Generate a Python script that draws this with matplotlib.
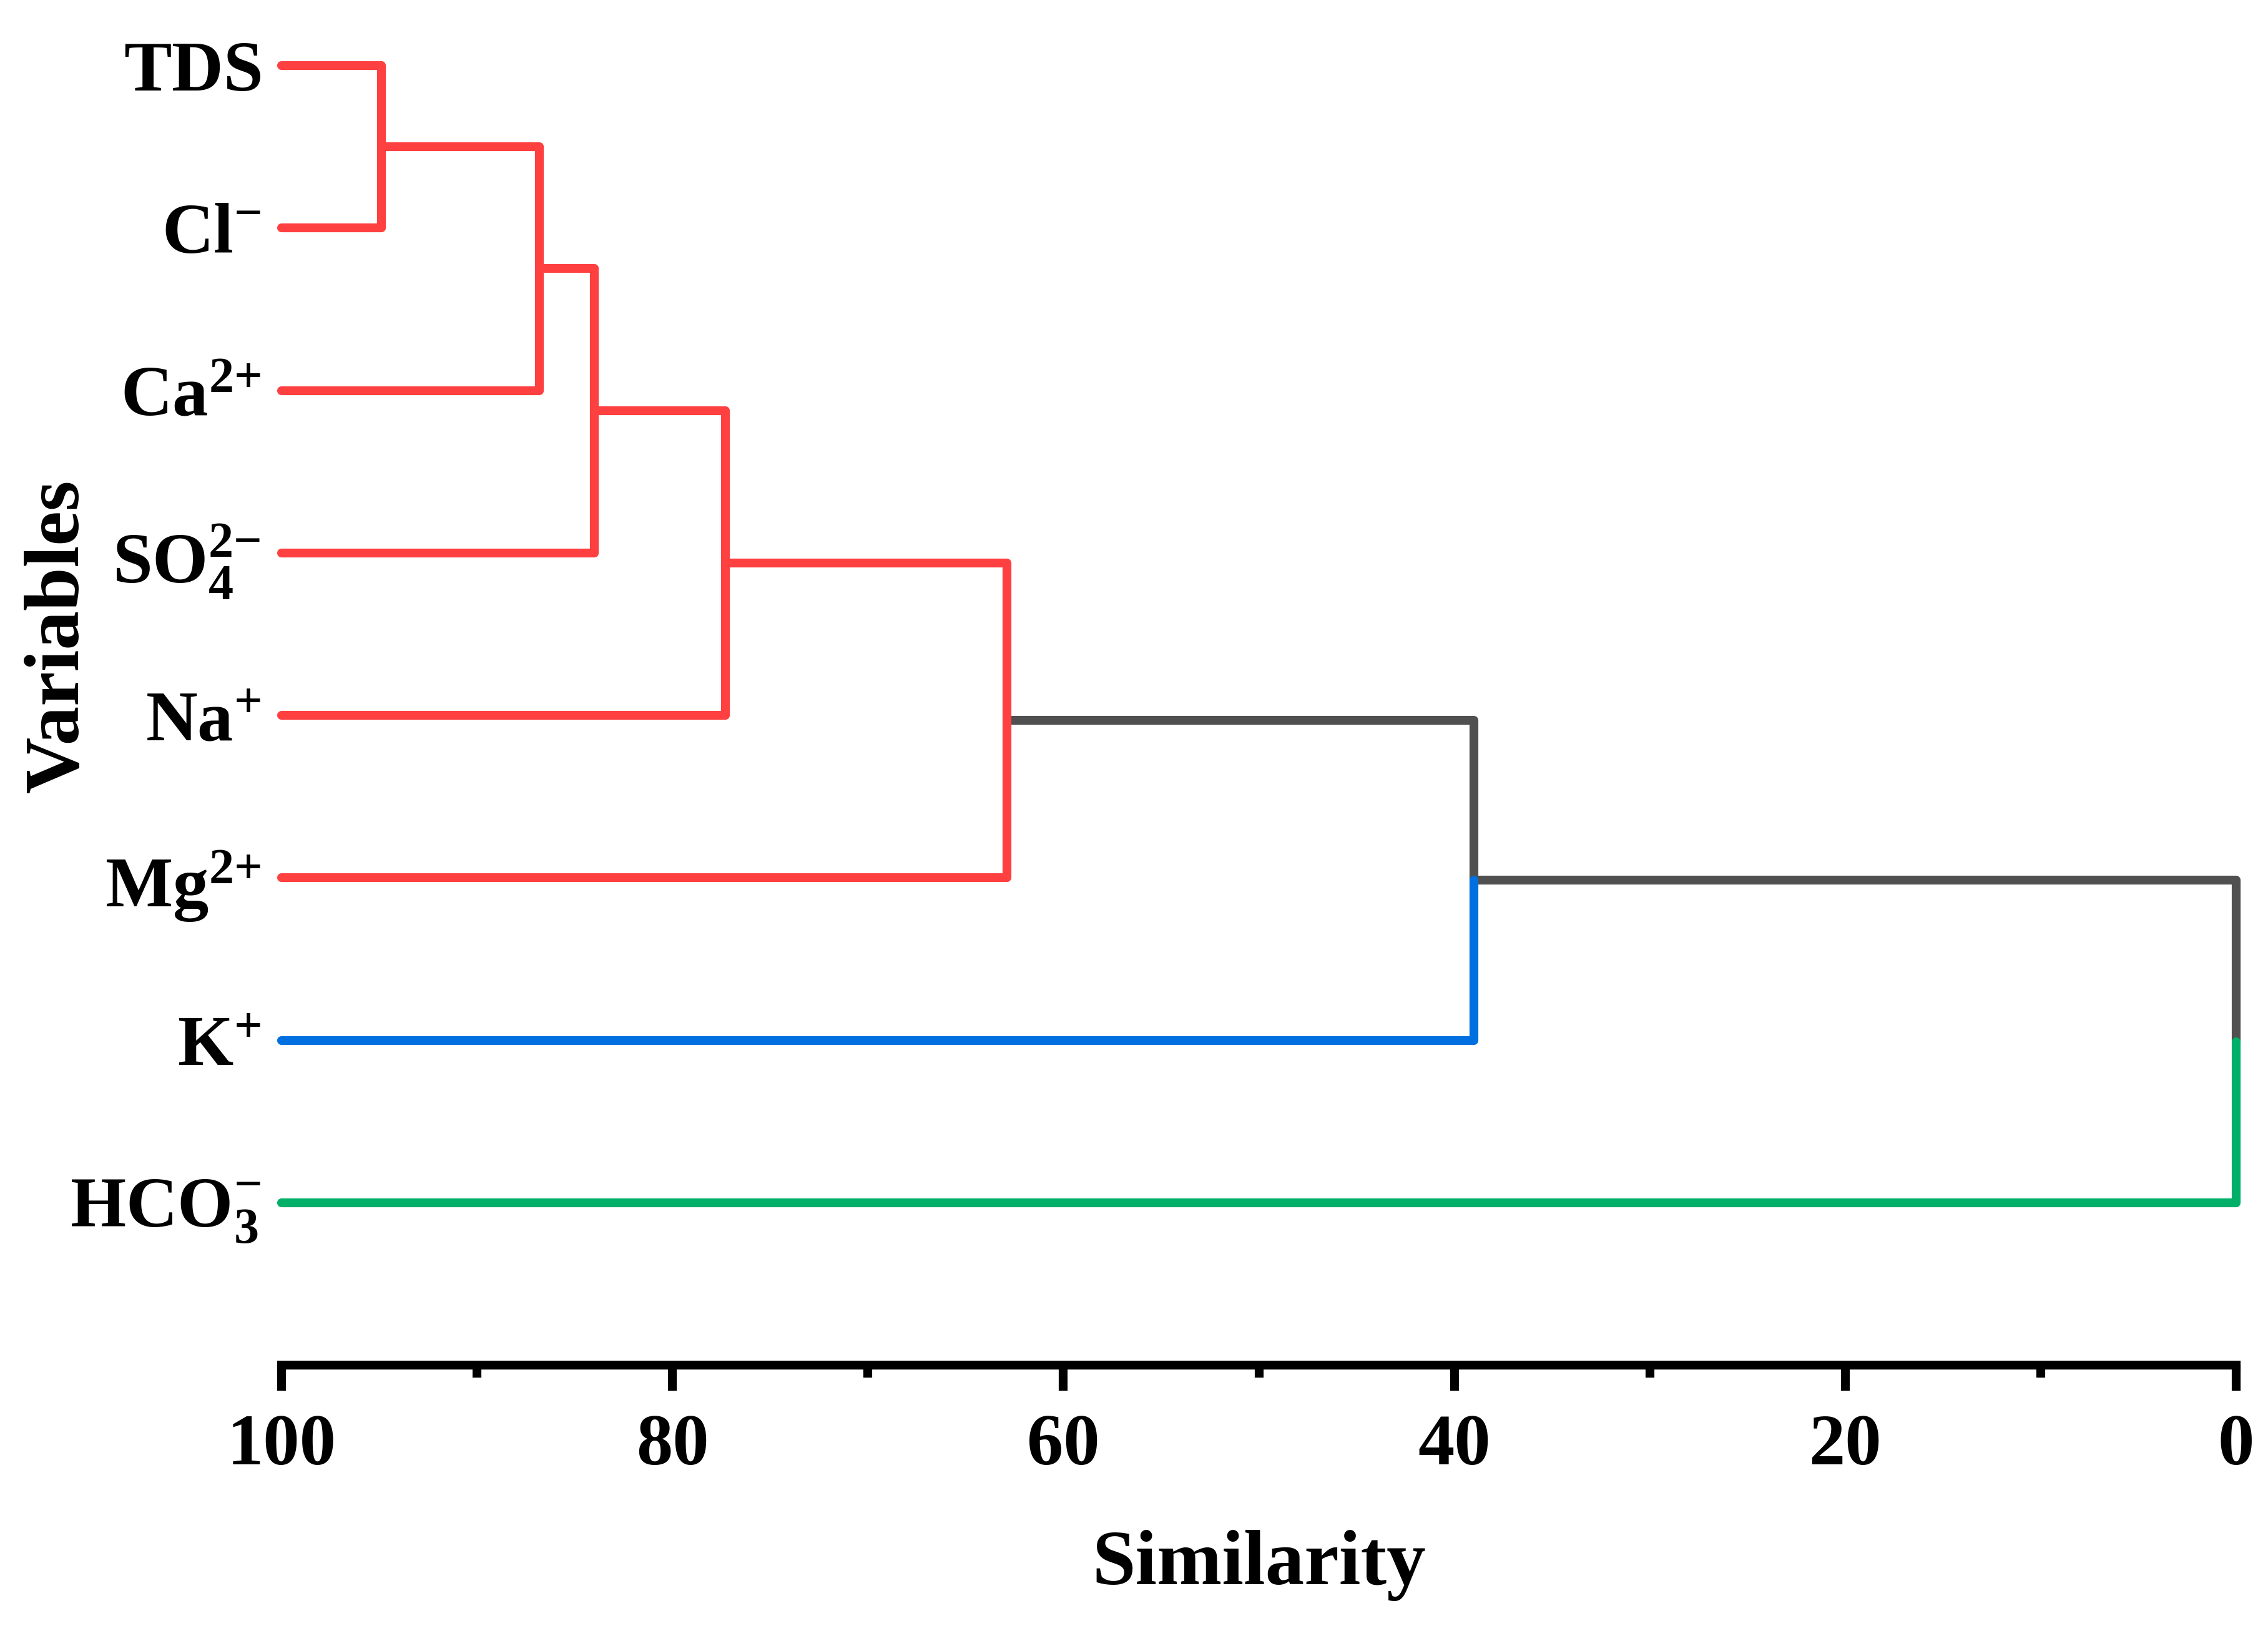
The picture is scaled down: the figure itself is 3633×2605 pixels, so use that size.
import numpy as np
import matplotlib.pyplot as plt

plt.rcParams['font.family'] = ['Liberation Serif', 'DejaVu Serif']
plt.rcParams['font.weight'] = 'bold'
plt.rcParams['mathtext.fontset'] = 'custom'
plt.rcParams['mathtext.rm'] = 'Liberation Serif'
plt.rcParams['mathtext.it'] = 'Liberation Serif:italic'
plt.rcParams['mathtext.bf'] = 'Liberation Serif:bold'

# leaves, top to bottom
leaf_labels = [r'$\mathbf{TDS}$', r'$\mathbf{Cl}^{{-}}$', r'$\mathbf{Ca}^{2{+}}$',
               r'$\mathbf{SO}_{\mathbf{4}}^{2{-}}$', r'$\mathbf{Na}^{{+}}$',
               r'$\mathbf{Mg}^{2{+}}$', r'$\mathbf{K}^{{+}}$', r'$\mathbf{HCO}_{\mathbf{3}}^{{-}}$']
leaf_groups = [0, 0, 0, 0, 0, 0, 1, 2]

# linkage: child a, child b, similarity of the merge (ids >= 8 are earlier merges)
merge_a = [0, 8, 9, 10, 11, 12, 13]
merge_b = [1, 2, 3, 4, 5, 6, 7]
merge_sim = [94.9, 86.8, 84.0, 77.3, 62.9, 39.0, 0.0]
cut = 50

group_colors = ['#FF4040', '#0070E0', '#00AF68']
gray = '#505050'

n = len(leaf_labels)
node_x = [100.0] * n
node_y = list(range(n))
node_group = list(leaf_groups)
for a, b, s in zip(merge_a, merge_b, merge_sim):
    node_x.append(s)
    node_y.append((node_y[a] + node_y[b]) / 2)
    node_group.append(node_group[a] if node_group[a] == node_group[b] else -1)

fig = plt.figure(figsize=(3633 / 300, 2605 / 300), dpi=300)
ax = fig.add_axes([451 / 3633, 1 - 2187 / 2605, 3131 / 3633, 2187 / 2605])

lw = 3.4
for k, (a, b, s) in enumerate(zip(merge_a, merge_b, merge_sim)):
    p = n + k
    for c in (a, b):
        if c < n or s > cut:
            col, z = group_colors[node_group[c]], 3
        else:
            col, z = gray, 2
        ax.plot([node_x[c], node_x[p], node_x[p]], [node_y[c], node_y[c], node_y[p]],
                color=col, lw=lw, solid_capstyle='round', solid_joinstyle='round',
                clip_on=False, zorder=z)

ax.set_xlim(100, 0)
ax.set_ylim(n, -0.404)

for side in ['top', 'left', 'right']:
    ax.spines[side].set_visible(False)
ax.spines['bottom'].set_linewidth(3.4)

ax.set_xticks(np.arange(0, 101, 20))
ax.set_xticks(np.arange(10, 100, 20), minor=True)
ax.tick_params(axis='x', which='major', length=9.8, width=3.4, pad=9, labelsize=28)
ax.tick_params(axis='x', which='minor', length=4.8, width=3.4)

ax.set_yticks(range(n))
ax.set_yticklabels(leaf_labels)
ax.tick_params(axis='y', length=0, pad=8, labelsize=27.5)

ax.set_xlabel('Similarity', fontsize=30, fontweight='bold')
ax.xaxis.label.set_verticalalignment('baseline')
ax.xaxis.set_label_coords(0.5, -(2538 - 2187) / 2187)
ax.set_ylabel('Variables', fontsize=30, fontweight='bold')
ax.yaxis.label.set_verticalalignment('baseline')
ax.yaxis.set_label_coords((125 - 451) / 3131, 1 - 1019 / 2187)

fig.savefig('out.png', dpi=300)
